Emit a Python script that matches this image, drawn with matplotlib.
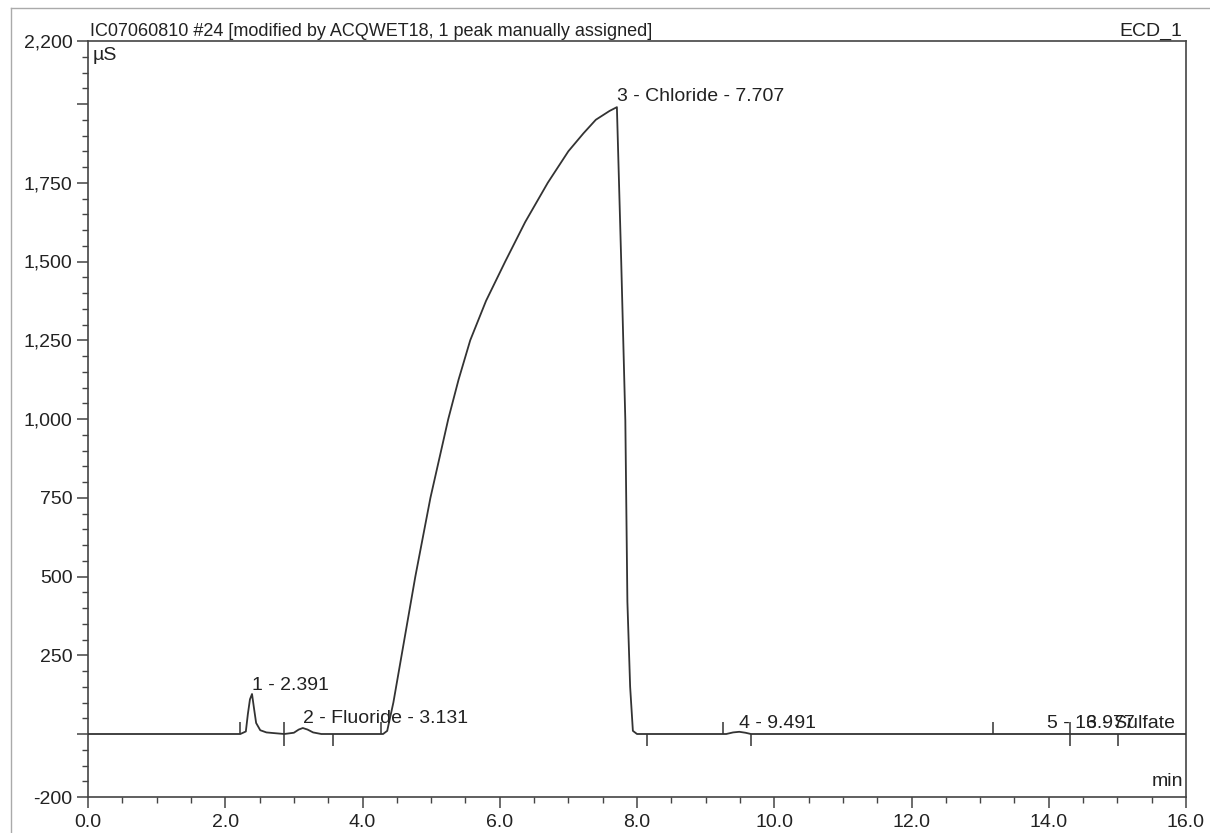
import numpy as np
import matplotlib
matplotlib.use("Agg")
import matplotlib.pyplot as plt
from matplotlib.ticker import FixedLocator, MultipleLocator

plt.rcParams.update({
    "font.family": ["Liberation Sans", "DejaVu Sans"],
    "font.size": 14,
    "text.color": "#222222",
    "axes.edgecolor": "#444444",
    "xtick.color": "#444444",
    "ytick.color": "#444444",
    "xtick.labelcolor": "#222222",
    "ytick.labelcolor": "#222222",
})

TITLE = "IC07060810 #24 [modified by ACQWET18, 1 peak manually assigned]"
CHANNEL = "ECD_1"

# chromatogram trace (time in min, signal in uS)
trace_t = [0.00, 2.22, 2.30, 2.33, 2.36, 2.39, 2.42, 2.45, 2.51, 2.60, 2.70,
           2.86, 3.00, 3.07, 3.13, 3.20, 3.28, 3.40,
           4.30, 4.36, 4.45, 4.57, 4.67, 4.77, 4.88, 4.99, 5.12, 5.25, 5.40,
           5.57, 5.80, 6.08, 6.37, 6.70, 7.00, 7.22, 7.40, 7.60, 7.707,
           7.77, 7.83, 7.86, 7.90, 7.94, 8.00,
           9.30, 9.40, 9.49, 9.58, 9.66, 16.00]
trace_v = [0, 0, 8, 64, 110, 127, 80, 35, 12, 5, 3,
           0, 4, 14, 19, 14, 5, 0,
           0, 10, 100, 250, 375, 500, 625, 750, 875, 1000, 1125,
           1250, 1375, 1500, 1625, 1750, 1850, 1907, 1950, 1978, 1990,
           1500, 995, 420, 150, 10, 0,
           0, 5, 7, 4, 0, 0]

# peak labels
peak_names = ["1 - 2.391", "2 - Fluoride - 3.131", "3 - Chloride - 7.707",
              "4 - 9.491", "5 - 13.977", "6 - Sulfate"]
peak_label_t = [2.391, 3.131, 7.707, 9.491, 13.977, 14.55]
peak_label_v = [140, 35, 2008, 20, 20, 20]

# integration delimiters: start (up), end (down), both
delim_up = [2.22, 4.27, 9.26, 13.19]
delim_down = [3.57, 8.15, 9.66, 15.01]
delim_both = [2.86, 14.31]

y_major = [-200, 0, 250, 500, 750, 1000, 1250, 1500, 1750, 2000, 2200]
y_major_labels = ["-200", "", "250", "500", "750", "1,000", "1,250",
                  "1,500", "1,750", "", "2,200"]
x_major = [0, 2, 4, 6, 8, 10, 12, 14, 16]

LC = "#333333"

fig = plt.figure(figsize=(12.10, 8.33), dpi=100)
ax = fig.add_axes([88 / 1210, 1 - 797 / 833, (1186 - 88) / 1210, (797 - 41) / 833])

ax.plot(trace_t, trace_v, color=LC, linewidth=1.3, zorder=3)

dl = 38
ax.vlines(delim_up, 0, dl, color=LC, linewidth=1.1)
ax.vlines(delim_down, -dl, 0, color=LC, linewidth=1.1)
ax.vlines(delim_both, -dl, dl, color=LC, linewidth=1.1)

for name, t, v in zip(peak_names, peak_label_t, peak_label_v):
    ax.text(t, v, name, ha="left", va="baseline", fontsize=14, color="#222222",
            clip_on=True)

ax.set_xlim(0, 16)
ax.set_ylim(-200, 2200)
ax.xaxis.set_major_locator(FixedLocator(x_major))
ax.set_xticklabels([f"{x:.1f}" for x in x_major])
ax.xaxis.set_minor_locator(MultipleLocator(0.5))
ax.yaxis.set_major_locator(FixedLocator(y_major))
ax.set_yticklabels(y_major_labels)
ax.yaxis.set_minor_locator(MultipleLocator(50))

ax.tick_params(which="major", length=8, width=1.1, labelsize=14, direction="out")
ax.tick_params(axis="y", which="major", pad=3)
ax.tick_params(axis="x", which="major", pad=4)
ax.tick_params(which="minor", length=4, width=1.0, direction="out")
for s in ax.spines.values():
    s.set_linewidth(1.2)

ax.annotate("µS", xy=(0, 1), xycoords="axes fraction", xytext=(3, -4),
            textcoords="offset points", ha="left", va="top", fontsize=14)
ax.annotate("min", xy=(1, 0), xycoords="axes fraction", xytext=(-2, 5),
            textcoords="offset points", ha="right", va="bottom", fontsize=14)

fig.text(90 / 1210, 1 - 36 / 833, TITLE, ha="left", va="baseline", fontsize=13)
fig.text(1182 / 1210, 1 - 36 / 833, CHANNEL, ha="right", va="baseline", fontsize=14)

# faint scan frame
fig.add_artist(plt.Line2D([11 / 1210, 11 / 1210], [0, 1 - 8 / 833],
                          transform=fig.transFigure, color="#aaaaaa", lw=1))
fig.add_artist(plt.Line2D([11 / 1210, 1], [1 - 8 / 833, 1 - 8 / 833],
                          transform=fig.transFigure, color="#aaaaaa", lw=1))

fig.savefig("out.png", dpi=100)
